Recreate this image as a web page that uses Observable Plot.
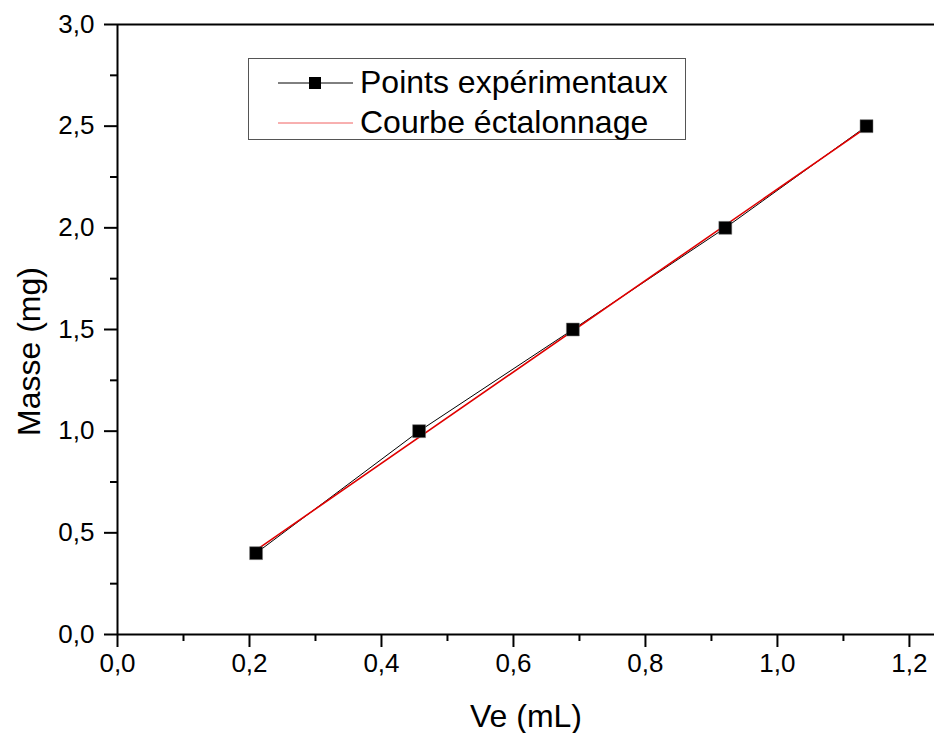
<!DOCTYPE html>
<html><head><meta charset="utf-8">
<script src="https://cdn.jsdelivr.net/npm/d3@7"></script>
<script src="https://cdn.jsdelivr.net/npm/@observablehq/plot@0.6"></script>
<style>
body{margin:0;background:#fff;font-family:"Liberation Sans",Arial,sans-serif;}
#wrap{position:relative;width:934px;height:733px;overflow:hidden;}
#wrap svg g[aria-label$="tick label"] text{font-size:26px !important;}
#wrap svg g[aria-label$="axis label"] text{font-size:32px !important;}
#legend{position:absolute;left:248px;top:58px;width:438px;height:82px;border:1.5px solid #555;box-sizing:border-box;background:#fff;}
#legend svg{position:absolute;left:0;top:0;}
.lt{position:absolute;left:111px;font-size:32px;line-height:32px;color:#000;white-space:nowrap;}
</style>
</head><body>
<div id="wrap"></div>
<script>
// Data
const ve = [0.21, 0.457, 0.69, 0.921, 1.135];
const masse = [0.4, 1.0, 1.5, 2.0, 2.5];
const fitVe = [0.21, 1.135];
const fitMasse = [0.415, 2.494];
const xMajor = [0, 0.2, 0.4, 0.6, 0.8, 1.0, 1.2];
const xMinor = [0.1, 0.3, 0.5, 0.7, 0.9, 1.1];
const yMajor = [0, 0.5, 1.0, 1.5, 2.0, 2.5, 3.0];
const yMinor = [0.25, 0.75, 1.25, 1.75, 2.25, 2.75];
const legendLabels = ["Points expérimentaux", "Courbe éctalonnage"];

const pts = ve.map((v, i) => ({ve: v, m: masse[i]}));
const fit = fitVe.map((v, i) => ({ve: v, m: fitMasse[i]}));
const fmt = d => d3.format(".1f")(d).replace(".", ",");

const chart = Plot.plot({
  width: 934, height: 733,
  marginLeft: 117, marginRight: 0, marginTop: 24, marginBottom: 99,
  style: {fontFamily: '"Liberation Sans", Arial, sans-serif', fontSize: "26px", color: "#000", background: "#fff"},
  x: {domain: [0, 1.238]},
  y: {domain: [0, 3]},
  marks: [
    Plot.axisX(xMajor, {tickSize: 13, strokeWidth: 2, tickFormat: fmt, tickPadding: 6,
      label: "Ve (mL)", labelAnchor: "center", labelArrow: false, labelOffset: 92}),
    Plot.axisX(xMinor, {tickSize: 7, strokeWidth: 2, tickFormat: () => "", label: null}),
    Plot.axisY(yMajor, {tickSize: 13, strokeWidth: 2, tickFormat: fmt, tickPadding: 10,
      label: "Masse (mg)", labelAnchor: "center", labelArrow: false, labelOffset: 100}),
    Plot.axisY(yMinor, {tickSize: 7, strokeWidth: 2, tickFormat: () => "", label: null}),
    Plot.ruleX([0], {strokeWidth: 2}),
    Plot.ruleY([0], {strokeWidth: 2}),
    Plot.ruleY([3], {strokeWidth: 2}),
    Plot.line(pts, {x: "ve", y: "m", stroke: "#000", strokeWidth: 1}),
    Plot.line(fit, {x: "ve", y: "m", stroke: "#e00000", strokeWidth: 1.6}),
    Plot.dot(pts, {x: "ve", y: "m", symbol: "square", r: 7.3, fill: "#000", stroke: "#777", strokeWidth: 0.5})
  ]
});
// the y label sits a little below the centre of the frame in the original
chart.querySelectorAll('g[aria-label="y-axis label"] text').forEach(t => t.setAttribute("dx", "-22"));
const wrap = document.getElementById("wrap");
wrap.appendChild(chart);

const leg = document.createElement("div");
leg.id = "legend";
leg.innerHTML = `<svg width="438" height="82">
  <line x1="29" x2="104" y1="24" y2="24" stroke="#000" stroke-width="1"/>
  <rect x="60" y="18" width="12" height="12" fill="#000"/>
  <line x1="29" x2="104" y1="64" y2="64" stroke="#f06060" stroke-width="1"/>
</svg>
<div class="lt" style="top:7px">${legendLabels[0]}</div>
<div class="lt" style="top:47px">${legendLabels[1]}</div>`;
wrap.appendChild(leg);
</script>
</body></html>
